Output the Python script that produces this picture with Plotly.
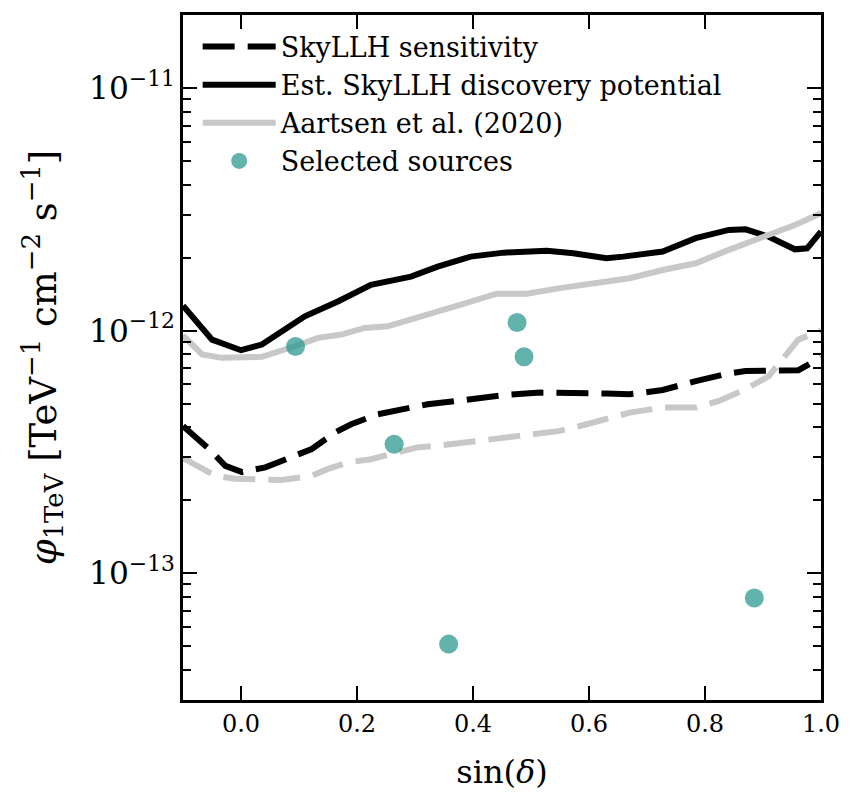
import plotly.graph_objects as go
import numpy as np

# SkyLLH sensitivity (black dashed)
sens_x = [-0.1, -0.055, -0.027, 0.002, 0.042, 0.093, 0.122, 0.162, 0.190, 0.236, 0.265,
          0.322, 0.384, 0.453, 0.516, 0.561, 0.630, 0.670, 0.727, 0.784, 0.841, 0.870,
          0.910, 0.961, 1.0]
sens_y = [4.04e-13, 3.25e-13, 2.77e-13, 2.61e-13, 2.73e-13, 3.05e-13, 3.25e-13, 3.80e-13,
          4.11e-13, 4.52e-13, 4.66e-13, 4.97e-13, 5.17e-13, 5.42e-13, 5.55e-13, 5.55e-13,
          5.50e-13, 5.46e-13, 5.69e-13, 6.19e-13, 6.66e-13, 6.81e-13, 6.81e-13, 6.87e-13,
          7.74e-13]

# Est. SkyLLH discovery potential (black solid)
disc_x = [-0.1, -0.05, 0.0, 0.036, 0.110, 0.167, 0.224, 0.293, 0.339, 0.396, 0.453, 0.527,
          0.573, 0.630, 0.659, 0.727, 0.784, 0.841, 0.870, 0.910, 0.955, 0.976, 1.0]
disc_y = [1.267e-12, 9.18e-13, 8.30e-13, 8.76e-13, 1.145e-12, 1.318e-12, 1.545e-12, 1.67e-12,
          1.836e-12, 2.018e-12, 2.096e-12, 2.136e-12, 2.084e-12, 1.988e-12, 2.018e-12,
          2.117e-12, 2.404e-12, 2.60e-12, 2.615e-12, 2.438e-12, 2.163e-12, 2.183e-12, 2.56e-12]

# Aartsen et al. (2020) discovery potential (gray solid)
aart_disc_x = [-0.1, -0.067, -0.033, 0.036, 0.093, 0.133, 0.173, 0.213, 0.253, 0.310, 0.379,
               0.441, 0.493, 0.550, 0.630, 0.670, 0.727, 0.784, 0.841, 0.898, 0.955, 1.0]
aart_disc_y = [9.55e-13, 7.97e-13, 7.72e-13, 7.80e-13, 8.62e-13, 9.33e-13, 9.63e-13, 1.026e-12,
               1.042e-12, 1.138e-12, 1.279e-12, 1.419e-12, 1.419e-12, 1.497e-12, 1.592e-12,
               1.644e-12, 1.778e-12, 1.895e-12, 2.151e-12, 2.404e-12, 2.723e-12, 3.05e-12]

# Aartsen et al. (2020) sensitivity (gray dashed)
aart_sens_x = [-0.1, -0.044, -0.010, 0.036, 0.070, 0.122, 0.150, 0.184, 0.224, 0.270, 0.304,
               0.339, 0.396, 0.481, 0.550, 0.596, 0.630, 0.670, 0.727, 0.784, 0.824, 0.870,
               0.910, 0.938, 0.961, 1.0]
aart_sens_y = [2.98e-13, 2.52e-13, 2.45e-13, 2.42e-13, 2.42e-13, 2.52e-13, 2.69e-13, 2.86e-13,
               2.95e-13, 3.15e-13, 3.30e-13, 3.35e-13, 3.48e-13, 3.68e-13, 3.86e-13, 4.11e-13,
               4.31e-13, 4.59e-13, 4.82e-13, 4.82e-13, 5.13e-13, 5.73e-13, 6.49e-13, 7.84e-13,
               9.18e-13, 1.0e-12]

# Selected sources
src_x = [0.094, 0.264, 0.358, 0.476, 0.488, 0.885]
src_y = [8.6e-13, 3.4e-13, 5.1e-14, 1.08e-12, 7.8e-13, 7.9e-14]

x_ticks = [0.0, 0.2, 0.4, 0.6, 0.8, 1.0]

FONT = "DejaVu Serif"
GRAY = "#c8c8c8"
DASH = "32px,13px"

fig = go.Figure()
fig.add_trace(go.Scatter(x=sens_x, y=sens_y, mode="lines", name="SkyLLH sensitivity",
                         line=dict(color="black", width=6, dash=DASH), legendgroup="a"))
fig.add_trace(go.Scatter(x=disc_x, y=disc_y, mode="lines", name="Est. SkyLLH discovery potential",
                         line=dict(color="black", width=6), legendgroup="b"))
fig.add_trace(go.Scatter(x=aart_disc_x, y=aart_disc_y, mode="lines", name="Aartsen et al. (2020)",
                         line=dict(color=GRAY, width=6), legendgroup="c"))
fig.add_trace(go.Scatter(x=aart_sens_x, y=aart_sens_y, mode="lines", showlegend=False,
                         line=dict(color=GRAY, width=6, dash=DASH), legendgroup="c2"))
fig.add_trace(go.Scatter(x=src_x, y=src_y, mode="markers", name="Selected sources",
                         marker=dict(color="rgba(38,150,140,0.72)", size=19, line=dict(width=0)),
                         legendgroup="d"))

fig.update_layout(
    width=852, height=799,
    margin=dict(l=183, r=26, t=12, b=99),
    paper_bgcolor="white", plot_bgcolor="white",
    font=dict(family=FONT, size=24, color="black"),
    showlegend=True,
    legend=dict(x=0.023, y=0.989, xanchor="left", yanchor="top",
                bgcolor="rgba(0,0,0,0)", font=dict(family=FONT, size=27),
                tracegroupgap=0, itemwidth=73, traceorder="normal"),
    xaxis=dict(range=[-0.1, 1.0], tickvals=x_ticks, tickformat=".1f",
               ticks="inside", ticklen=14, tickwidth=2, tickcolor="black",
               showline=True, linewidth=3, linecolor="black", mirror="allticks",
               showgrid=False, zeroline=False,
               title=dict(text="sin(<i>δ</i>)", font=dict(family=FONT, size=32), standoff=24),
               tickfont=dict(family=FONT, size=24)),
    yaxis=dict(type="log", range=[np.log10(3e-14), np.log10(2e-11)], dtick=1,
               exponentformat="power",
               ticks="inside", ticklen=14, tickwidth=2, tickcolor="black",
               minor=dict(ticks="inside", ticklen=8, tickwidth=2, tickcolor="black", dtick="D1",
                          showgrid=False),
               showline=True, linewidth=3, linecolor="black", mirror="allticks",
               showgrid=False, zeroline=False,
               title=dict(text="<i>φ</i><sub>1TeV</sub> [TeV<sup>−1</sup> cm<sup>−2</sup> s<sup>−1</sup>]",
                          font=dict(family=FONT, size=37), standoff=22),
               tickfont=dict(family=FONT, size=25)),
)

fig.write_html("out.html")
